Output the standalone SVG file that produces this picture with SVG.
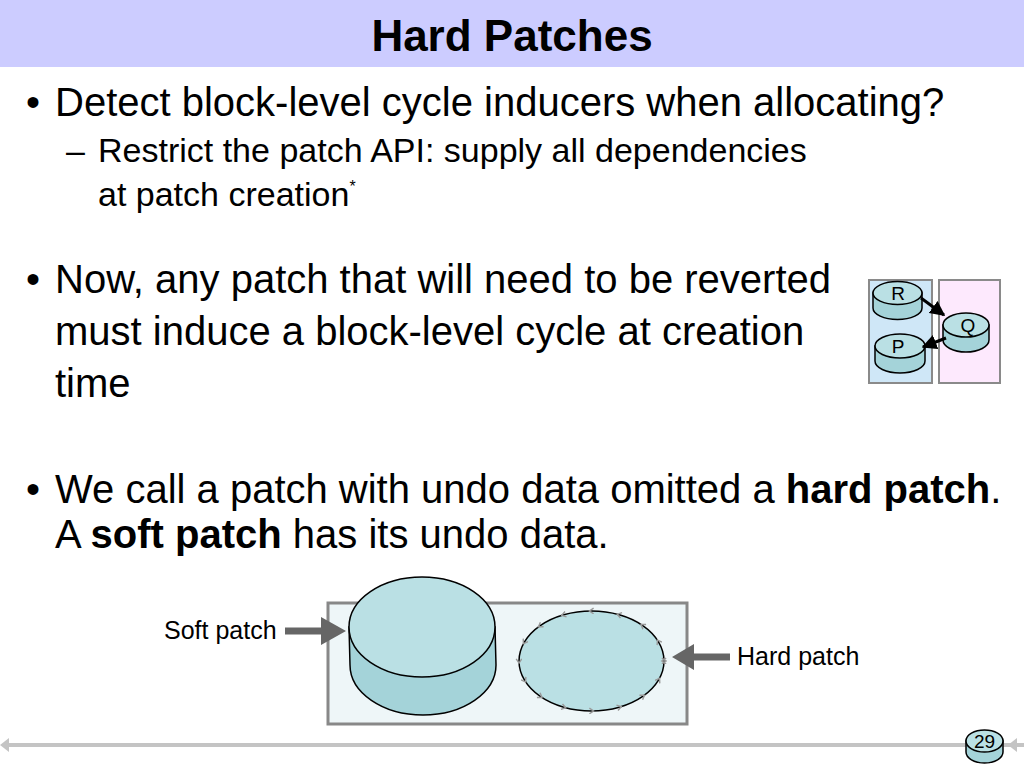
<svg xmlns="http://www.w3.org/2000/svg" width="1024" height="768" viewBox="0 0 1024 768">
<style>
text{font-family:"Liberation Sans",Arial,sans-serif;fill:#000}
.b{font-size:40px}
.s{font-size:34px}
.cyl-side{fill:#a4d3d9;stroke:#000;stroke-width:1.5}
.cyl-top{fill:#bae0e4;stroke:#000;stroke-width:1.5}
.lbl{font-size:25px}
.n{font-size:19px;text-anchor:middle}
</style>
<defs>
<marker id="ah" viewBox="0 0 10 10" refX="9" refY="5" markerWidth="5" markerHeight="5" orient="auto">
<path d="M0,0 L10,5 L0,10 Z" fill="#000"/>
</marker>
<marker id="tick" viewBox="0 0 10 10" refX="5" refY="5" markerWidth="7" markerHeight="7" markerUnits="userSpaceOnUse" orient="auto">
<path d="M2,1 L8,5 L2,9" fill="none" stroke="#999" stroke-width="2"/>
</marker>
</defs>
<rect width="1024" height="768" fill="#fff"/>
<g id="title">
<rect x="0" y="0" width="1024" height="67" fill="#ccccff"/>
<text x="512" y="51" font-size="44" font-weight="bold" text-anchor="middle">Hard Patches</text>
</g>
<g id="bullets">
<text x="26" y="116" class="b">•</text>
<text x="55" y="116" class="b">Detect block-level cycle inducers when allocating?</text>
<text x="66" y="162" class="s">–</text>
<text x="98" y="162" class="s">Restrict the patch API: supply all dependencies</text>
<text x="98" y="206" class="s">at patch creation<tspan dy="-14" font-size="16">*</tspan></text>
<text x="26" y="293" class="b">•</text>
<text x="55" y="293" class="b">Now, any patch that will need to be reverted</text>
<text x="55" y="345" class="b">must induce a block-level cycle at creation</text>
<text x="55" y="397" class="b">time</text>
<text x="26" y="503" class="b">•</text>
<text x="55" y="503" class="b">We call a patch with undo data omitted a <tspan font-weight="bold">hard patch</tspan>.</text>
<text x="55" y="548" class="b">A <tspan font-weight="bold">soft patch</tspan> has its undo data.</text>
</g>
<g id="small-diagram">
<rect id="box-left" x="869" y="280" width="63" height="103" fill="#cfe7f7" stroke="#8a8a8a" stroke-width="2"/>
<rect id="box-right" x="939" y="280" width="61" height="103" fill="#fde9fd" stroke="#8a8a8a" stroke-width="2"/>
<g id="node-R">
<path class="cyl-side" d="M873,293 L873,308 A24.5,11.5 0 0 0 922,308 L922,293 Z"/>
<ellipse class="cyl-top" cx="897.5" cy="293" rx="24.5" ry="11.5"/>
<text x="898" y="299.5" class="n">R</text>
</g>
<g id="node-Q">
<path class="cyl-side" d="M943,325 L943,340 A23,12 0 0 0 989,340 L989,325 Z"/>
<ellipse class="cyl-top" cx="966" cy="325" rx="23" ry="12"/>
<text x="968" y="332" class="n">Q</text>
</g>
<g id="node-P">
<path class="cyl-side" d="M875,346 L875,361 A25,12 0 0 0 925,361 L925,346 Z"/>
<ellipse class="cyl-top" cx="900" cy="346" rx="25" ry="12"/>
<text x="898" y="353" class="n">P</text>
</g>
<g id="small-connectors" stroke="#000" stroke-width="3" fill="none">
<line x1="921" y1="298" x2="944" y2="315" marker-end="url(#ah)"/>
<line x1="946" y1="338" x2="923" y2="347" marker-end="url(#ah)"/>
</g>
</g>
<g id="bottom-diagram">
<rect id="container" x="328" y="603" width="359" height="121" fill="#eef6f8" stroke="#888" stroke-width="3"/>
<g id="soft-patch">
<path class="cyl-side" d="M349,627 L350,665 A73,50 0 0 0 496,665 L495,627 Z"/>
<ellipse class="cyl-top" cx="422" cy="627" rx="73" ry="50"/>
</g>
<g id="hard-patch">
<path d="M664,661 A72.5,50 0 0 0 658.48,641.87 A72.5,50 0 0 0 642.77,625.64 A72.5,50 0 0 0 619.25,614.8 A72.5,50 0 0 0 591.5,611 A72.5,50 0 0 0 563.75,614.8 A72.5,50 0 0 0 540.23,625.64 A72.5,50 0 0 0 524.52,641.87 A72.5,50 0 0 0 519,661 A72.5,50 0 0 0 524.52,680.13 A72.5,50 0 0 0 540.23,696.36 A72.5,50 0 0 0 563.75,707.2 A72.5,50 0 0 0 591.5,711 A72.5,50 0 0 0 619.25,707.2 A72.5,50 0 0 0 642.77,696.36 A72.5,50 0 0 0 658.48,680.13 A72.5,50 0 0 0 664,661 Z" fill="#bae0e4" stroke="#000" stroke-width="1.5" marker-start="url(#tick)" marker-mid="url(#tick)"/>
</g>
<g id="label-soft">
<text x="164" y="639" class="lbl">Soft patch</text>
</g>
<g id="label-hard">
<text x="737" y="665" class="lbl">Hard patch</text>
</g>
<g id="bottom-connectors" fill="#666">
<path d="M285,627.5 L321,627.5 L321,617 L346,631 L321,645 L321,634.5 L285,634.5 Z"/>
<path d="M730,653.5 L694,653.5 L694,644 L672,657 L694,670 L694,660.5 L730,660.5 Z"/>
</g>
</g>
<g id="footer">
<line x1="6" y1="745" x2="1024" y2="745" stroke="#c4c4c4" stroke-width="4"/>
<path d="M0,745 L9,738 L9,752 Z" fill="#c4c4c4"/>
<path d="M1008,745 L1017,738 L1017,752 Z" fill="#c4c4c4"/>
<g id="page-number">
<path class="cyl-side" d="M966,741 L966,752 A18.5,11 0 0 0 1003,752 L1003,741 Z"/>
<ellipse class="cyl-top" cx="984.5" cy="741" rx="18.5" ry="11"/>
<text x="984.5" y="748" font-size="19" text-anchor="middle">29</text>
</g>
</g>
</svg>
